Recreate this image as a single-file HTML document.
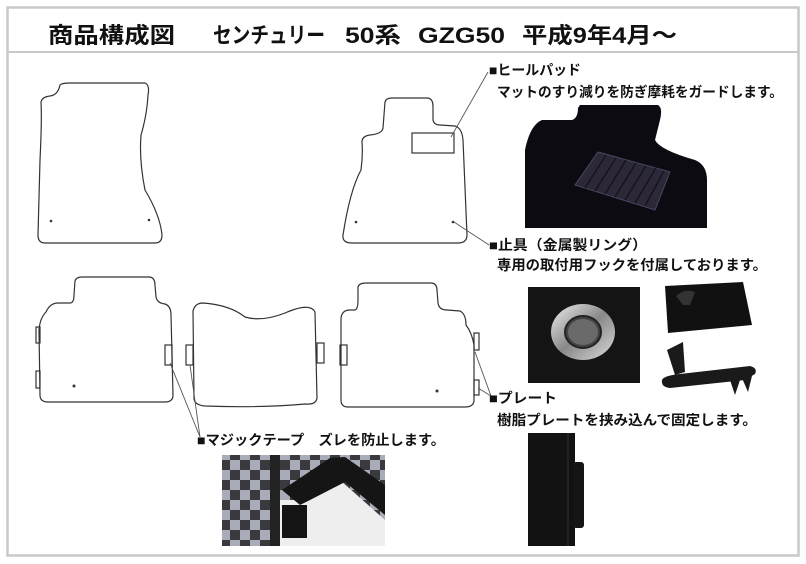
<!DOCTYPE html>
<html><head><meta charset="utf-8"><style>
html,body{margin:0;padding:0;background:#fff;}
svg{display:block;}
text{font-family:"Liberation Sans","Noto Sans CJK JP",sans-serif;font-weight:bold;fill:#111;}
</style></head><body>
<svg width="806" height="564" viewBox="0 0 806 564" xmlns="http://www.w3.org/2000/svg">
<defs>
<linearGradient id="ring" x1="0" y1="0" x2="1" y2="1"><stop offset="0" stop-color="#eee"/><stop offset=".5" stop-color="#888"/><stop offset="1" stop-color="#ddd"/></linearGradient>
<pattern id="chk" width="20" height="20" patternUnits="userSpaceOnUse"><rect width="20" height="20" fill="#a8acb8"/><rect width="10" height="10" fill="#3a3a3e"/><rect x="10" y="10" width="10" height="10" fill="#3a3a3e"/></pattern>
</defs>
<rect x="7.5" y="7.5" width="791" height="548" fill="#fff" stroke="#c8c8c8" stroke-width="2.5"/>
<line x1="8" y1="52" x2="798" y2="52" stroke="#c8c8c8" stroke-width="2"/>
<text x="48" y="43" font-size="22" textLength="127" lengthAdjust="spacingAndGlyphs">商品構成図</text>
<text x="213" y="43" font-size="22" textLength="112" lengthAdjust="spacingAndGlyphs">センチュリー</text>
<text x="345" y="43" font-size="22" textLength="56" lengthAdjust="spacingAndGlyphs">50系</text>
<text x="418" y="43" font-size="22" textLength="87" lengthAdjust="spacingAndGlyphs">GZG50</text>
<text x="522" y="43" font-size="22" textLength="155" lengthAdjust="spacingAndGlyphs">平成9年4月～</text>

<g fill="none" stroke="#333" stroke-width="1.2">
<path d="M60,85 Q62,83 70,83 L145,83 Q150,85 148,95 Q147,115 141,135 Q139,160 145,190 Q160,215 162,235 Q162,243 155,243 L45,243 Q38,243 38,235 L40,160 Q42,120 41,102 Q42,97 50,96 Q58,95 60,85 Z"/>
<path d="M385,102 Q386,98 392,98 L428,98 Q433,99 433,106 L433,120 Q434,125 440,125 L455,126 Q462,128 463,140 Q465,190 467,235 Q467,243 458,243 L352,243 Q342,243 343,235 Q350,190 361,170 Q363,155 362,142 Q362,136 370,135 Q382,134 383,128 Z"/>
<rect x="412" y="133" width="42" height="20"/>
<path d="M75,281 Q76,277 82,277 L150,277 Q155,278 155,285 L156,297 Q157,303 165,304 Q171,306 171,315 L173,395 Q173,402 165,402 L48,402 Q40,402 40,395 L39,330 Q40,318 46,312 Q50,303 58,303 L70,303 Q74,303 74,295 Z"/>
<rect x="36" y="327" width="4" height="16"/><rect x="36" y="371" width="4" height="17"/>
<rect x="165" y="345" width="7" height="20"/>
<path d="M193,311 Q195,303 203,303 Q230,305 245,317 Q262,322 285,313 Q310,302 315,312 L317,398 Q316,405 305,404 Q260,408 205,406 Q194,405 194,398 Z"/>
<rect x="186" y="345" width="7" height="20"/><rect x="317" y="343" width="7" height="20"/>
<path d="M358,287 Q359,283 366,283 L432,283 Q437,284 437,290 L438,303 Q439,310 447,310 L460,311 Q466,314 466,325 Q472,333 474,345 L474,400 Q474,407 465,407 L348,407 Q341,407 341,400 L341,318 Q342,310 350,310 L355,310 Q358,309 358,300 Z"/>
<rect x="340" y="345" width="7" height="20"/>
<rect x="474" y="333" width="5" height="17"/><rect x="474" y="380" width="5" height="15"/>
</g>
<g fill="#333">
<circle cx="51" cy="221" r="1.3"/><circle cx="149" cy="220" r="1.3"/>
<circle cx="356" cy="222" r="1.3"/><circle cx="453" cy="222" r="1.3"/>
<circle cx="74" cy="386" r="1.5"/><circle cx="437" cy="391" r="1.5"/>
</g>
<g stroke="#555" stroke-width="0.9">
<line x1="451" y1="137" x2="488" y2="72"/>
<line x1="454" y1="222" x2="489" y2="245"/>
<line x1="170" y1="363" x2="200" y2="437"/><line x1="190" y1="365" x2="200" y2="437"/>
<line x1="475" y1="352" x2="491" y2="396"/><line x1="478" y1="388" x2="491" y2="396"/>
</g>

<text x="489" y="75" font-size="14" textLength="92" lengthAdjust="spacingAndGlyphs">■ヒールパッド</text>
<text x="497" y="97" font-size="14" textLength="286" lengthAdjust="spacingAndGlyphs">マットのすり減りを防ぎ摩耗をガードします。</text>
<text x="489" y="250" font-size="14" textLength="158" lengthAdjust="spacingAndGlyphs">■止具（金属製リング）</text>
<text x="497" y="270" font-size="14" textLength="270" lengthAdjust="spacingAndGlyphs">専用の取付用フックを付属しております。</text>
<text x="489" y="403" font-size="14" textLength="68" lengthAdjust="spacingAndGlyphs">■プレート</text>
<text x="497" y="425" font-size="14" textLength="260" lengthAdjust="spacingAndGlyphs">樹脂プレートを挟み込んで固定します。</text>
<text x="197" y="445" font-size="14" textLength="248" lengthAdjust="spacingAndGlyphs">■マジックテープ　ズレを防止します。</text>

<path d="M525,150 Q530,125 542,120 L572,120 Q578,118 578,108 L580,105 L658,105 Q663,108 660,120 L655,140 Q660,150 695,160 Q707,165 707,180 L707,228 L525,228 Z" fill="#0c0b12"/>
<path d="M598,152 L670,172 L655,210 L575,185 Z" fill="#2c2838" stroke="#4a4560" stroke-width="1"/>
<g stroke="#151320" stroke-width="1.5">
<line x1="606" y1="155" x2="585" y2="188"/><line x1="616" y1="158" x2="595" y2="191"/><line x1="626" y1="160" x2="605" y2="194"/><line x1="636" y1="163" x2="615" y2="197"/><line x1="646" y1="166" x2="625" y2="200"/><line x1="656" y1="168" x2="635" y2="203"/><line x1="664" y1="171" x2="645" y2="206"/>
</g>
<rect x="528" y="287" width="112" height="96" fill="#141414"/>
<ellipse cx="583" cy="332" rx="32" ry="28" fill="url(#ring)"/>
<ellipse cx="583" cy="332" rx="18" ry="16" fill="#444" stroke="#222" stroke-width="2"/>
<ellipse cx="583" cy="332" rx="15" ry="13" fill="#6a6a6a"/>
<path d="M665,286 L743,282 L752,325 L668,333 Z" fill="#111"/>
<path d="M676,296 Q685,288 695,292 L690,305 L683,305 Z" fill="#333"/>
<path d="M667,350 L683,342 L685,372 L675,375 Z" fill="#1a1a1a"/>
<path d="M662,382 Q660,376 680,374 L750,366 Q758,368 755,374 L745,380 L670,388 Q662,387 662,382 Z" fill="#1a1a1a"/>
<path d="M730,380 L735,395 L740,380 Z M742,378 L748,392 L752,376 Z" fill="#1a1a1a"/>
<rect x="528" y="433" width="47" height="113" fill="#121212"/>
<rect x="573" y="462" width="11" height="66" rx="3" fill="#151515"/>
<line x1="568" y1="433" x2="568" y2="546" stroke="#333" stroke-width="1"/>
<rect x="222" y="455" width="163" height="91" fill="url(#chk)"/>
<rect x="270" y="455" width="10" height="91" fill="#222"/>
<path d="M280,500 L300,500 L340,480 L385,520 L385,546 L280,546 Z" fill="#eeeeee"/>
<path d="M282,490 L330,458 L345,457 L385,485 L385,515 L345,482 L310,500 L300,505 Z" fill="#151515"/>
<rect x="282" y="505" width="25" height="33" fill="#141414"/>
</svg>
</body></html>
